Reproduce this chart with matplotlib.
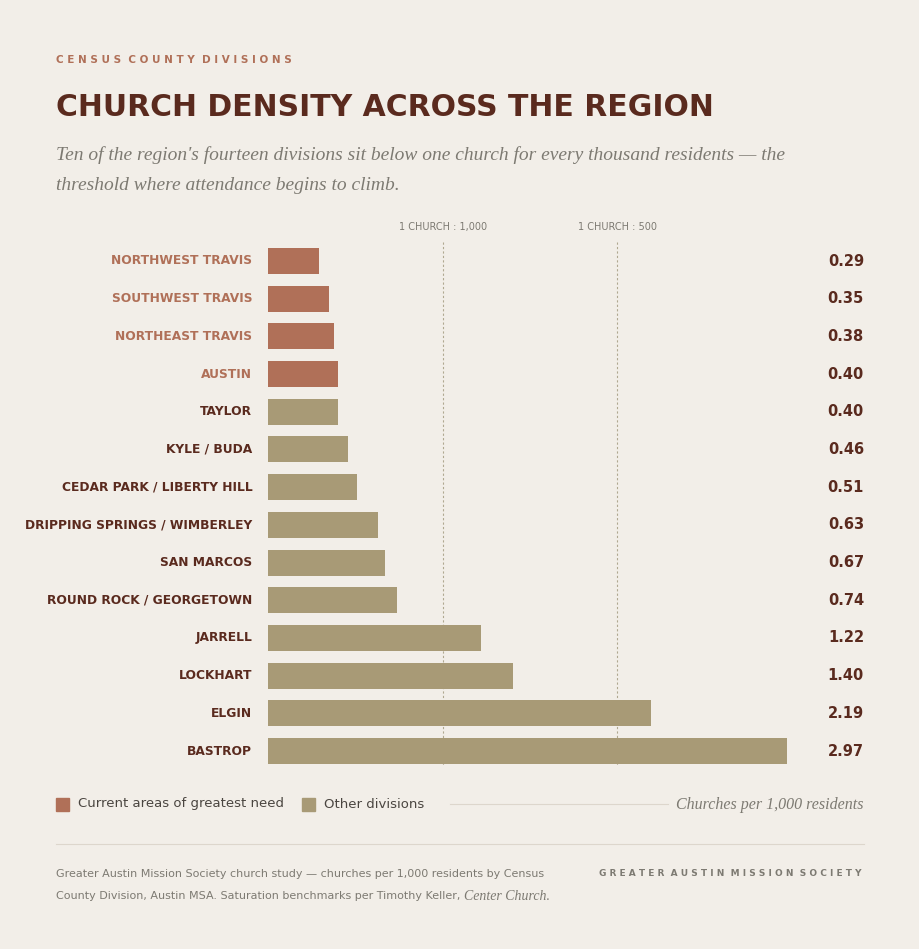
import matplotlib.pyplot as plt
import numpy as np

divisions = ["NORTHWEST TRAVIS", "SOUTHWEST TRAVIS", "NORTHEAST TRAVIS", "AUSTIN",
             "TAYLOR", "KYLE / BUDA", "CEDAR PARK / LIBERTY HILL",
             "DRIPPING SPRINGS / WIMBERLEY", "SAN MARCOS", "ROUND ROCK / GEORGETOWN",
             "JARRELL", "LOCKHART", "ELGIN", "BASTROP"]
density = [0.29, 0.35, 0.38, 0.40, 0.40, 0.46, 0.51, 0.63, 0.67, 0.74, 1.22, 1.40, 2.19, 2.97]
need = [True, True, True, True] + [False] * 10
benchmarks = [1.0, 2.0]
bench_labels = ["1 CHURCH : 1,000", "1 CHURCH : 500"]

BG = "#f2eee8"
RUST = "#b07058"
TAN = "#a89a76"
DARK = "#5a2a1e"
GREY = "#7d7a72"
COND = ["Liberation Sans Narrow", "DejaVu Sans"]
SERIF = ["Liberation Serif", "DejaVu Serif"]

W, H = 920, 949
fig = plt.figure(figsize=(W / 100, H / 100), dpi=100, facecolor=BG)

def fx(px): return px / W
def fy(py): return 1 - py / H

def spaced(s):
    return "  ".join(" ".join(w) for w in s.split())

ax = fig.add_axes([fx(268), fy(770), fx(787) - fx(268), (770 - 242) / H])
ax.set_facecolor(BG)
y = np.arange(len(divisions))
colors = [RUST if n else TAN for n in need]
ax.barh(y, density, height=0.69, color=colors, zorder=2)
ax.set_xlim(0, max(density))
ax.set_ylim(len(divisions) - 0.5, -0.5)
ax.axis("off")
for b, lab in zip(benchmarks, bench_labels):
    ax.plot([b, b], [-0.5, len(divisions) - 0.6], ls=(0, (2, 2)), lw=0.8, color="#b0a890", zorder=1)
    ax.text(b, -0.9, lab, ha="center", va="center", fontsize=7, color=GREY, family=COND)
for i, (d, v, n) in enumerate(zip(divisions, density, need)):
    ax.text(-0.09, i, d, ha="right", va="center", fontsize=8.8, fontweight="bold",
            color=RUST if n else DARK, family=COND)
    fig.text(fx(864), fy(261 + i * 37.7), f"{v:.2f}", ha="right", va="center",
             fontsize=10.5, fontweight="bold", color=DARK, family=COND)

fig.text(fx(56), fy(60), spaced("CENSUS COUNTY DIVISIONS"),
         fontsize=7.5, color=RUST, family=COND, fontweight="bold", va="center")
fig.text(fx(56), fy(107), "CHURCH DENSITY ACROSS THE REGION", fontsize=21.5, fontweight="bold",
         color=DARK, family=COND, va="center")
fig.text(fx(56), fy(155), "Ten of the region's fourteen divisions sit below one church for every thousand residents — the",
         fontsize=14, style="italic", color=GREY, family=SERIF, va="center")
fig.text(fx(56), fy(185), "threshold where attendance begins to climb.",
         fontsize=14, style="italic", color=GREY, family=SERIF, va="center")

# legend row
for x0, c, lab in [(56, RUST, "Current areas of greatest need"), (302, TAN, "Other divisions")]:
    fig.patches.append(plt.Rectangle((fx(x0), fy(811)), fx(13), 13 / H, color=c,
                                     transform=fig.transFigure, figure=fig))
    fig.text(fx(x0 + 22), fy(804), lab, fontsize=9.5, color="#4a4540", va="center")
fig.add_artist(plt.Line2D([fx(450), fx(668)], [fy(804)] * 2, color="#ddd6cc", lw=0.8))
fig.text(fx(864), fy(805), "Churches per 1,000 residents", fontsize=11.5, style="italic",
         color=GREY, family=SERIF, ha="right", va="center")
fig.add_artist(plt.Line2D([fx(56), fx(864)], [fy(844)] * 2, color="#ddd6cc", lw=0.8))

fig.text(fx(56), fy(874), "Greater Austin Mission Society church study — churches per 1,000 residents by Census",
         fontsize=8, color=GREY, va="center")
t2 = fig.text(fx(56), fy(896), "County Division, Austin MSA. Saturation benchmarks per Timothy Keller, ",
              fontsize=8, color=GREY, va="center")
r = fig.canvas.get_renderer()
x_end = t2.get_window_extent(r).x1
fig.text(x_end / W, fy(896), "Center Church.", fontsize=10, style="italic", color=GREY,
         family=SERIF, va="center")
fig.text(fx(862), fy(874), spaced("GREATER AUSTIN MISSION SOCIETY"),
         fontsize=6.5, color=GREY, family=COND, fontweight="bold", ha="right", va="center")

fig.savefig("out.png", dpi=100, facecolor=BG)
